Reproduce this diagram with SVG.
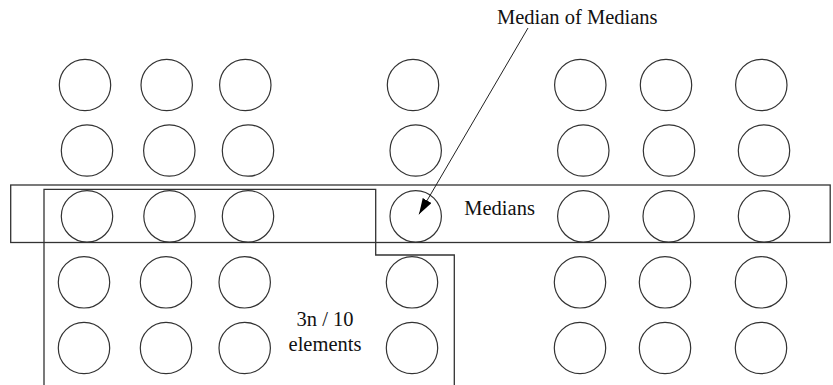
<svg xmlns="http://www.w3.org/2000/svg" width="833" height="385" viewBox="0 0 833 385">
<style>
.c{fill:none;stroke:#333;stroke-width:1.2}
.b{fill:none;stroke:#333;stroke-width:1.3}
text{font-family:'Liberation Serif','DejaVu Serif',serif;font-size:20.5px;fill:#111}
</style>
<defs>
<marker id="ah" markerUnits="userSpaceOnUse" markerWidth="18" markerHeight="12" refX="16" refY="5" orient="auto">
<path d="M0,0 L16,5 L0,10 Z" fill="#000"/>
</marker>
</defs>
<rect width="833" height="385" fill="#fff"/>
<g id="regions">
<rect id="medians-box" class="b" x="10.7" y="185" width="819.5" height="57.5"/>
<path id="three-n-box" class="b" d="M44,385 L44,189.3 L375.7,189.3 L375.7,255 L454.3,255 L454.3,385"/>
</g>
<g id="row1">
<circle class="c" cx="85" cy="85" r="25.7"/>
<circle class="c" cx="166.7" cy="85" r="25.7"/>
<circle class="c" cx="245.3" cy="85" r="25.7"/>
<circle class="c" cx="413" cy="85" r="25.7"/>
<circle class="c" cx="580.3" cy="85" r="25.7"/>
<circle class="c" cx="666" cy="85" r="25.7"/>
<circle class="c" cx="761.3" cy="85" r="25.7"/>
</g>
<g id="row2">
<circle class="c" cx="87" cy="150.5" r="25.7"/>
<circle class="c" cx="169.3" cy="150.5" r="25.7"/>
<circle class="c" cx="248" cy="150.5" r="25.7"/>
<circle class="c" cx="415.7" cy="150.5" r="25.7"/>
<circle class="c" cx="583.3" cy="150.5" r="25.7"/>
<circle class="c" cx="669" cy="150.5" r="25.7"/>
<circle class="c" cx="764" cy="150.5" r="25.7"/>
</g>
<g id="row3">
<circle class="c" cx="87" cy="216.3" r="25.7"/>
<circle class="c" cx="169.5" cy="216.3" r="25.7"/>
<circle class="c" cx="248" cy="216.3" r="25.7"/>
<circle id="median-of-medians" class="c" cx="415.7" cy="216.3" r="25.7"/>
<circle class="c" cx="583.3" cy="216.3" r="25.7"/>
<circle class="c" cx="668.7" cy="216.3" r="25.7"/>
<circle class="c" cx="764" cy="216.3" r="25.7"/>
</g>
<g id="row4">
<circle class="c" cx="84" cy="282.3" r="25.7"/>
<circle class="c" cx="166" cy="282.3" r="25.7"/>
<circle class="c" cx="244.7" cy="282.3" r="25.7"/>
<circle class="c" cx="412" cy="282.3" r="25.7"/>
<circle class="c" cx="580" cy="282.3" r="25.7"/>
<circle class="c" cx="665" cy="282.3" r="25.7"/>
<circle class="c" cx="761" cy="282.3" r="25.7"/>
</g>
<g id="row5">
<circle class="c" cx="84" cy="348" r="25.7"/>
<circle class="c" cx="166" cy="348" r="25.7"/>
<circle class="c" cx="244.7" cy="348" r="25.7"/>
<circle class="c" cx="412" cy="348" r="25.7"/>
<circle class="c" cx="580" cy="348" r="25.7"/>
<circle class="c" cx="665" cy="348" r="25.7"/>
<circle class="c" cx="761" cy="348" r="25.7"/>
</g>
<g id="connectors">
<line x1="528" y1="28" x2="419" y2="214.3" stroke="#222" stroke-width="1" marker-end="url(#ah)"/>
</g>
<g id="labels">
<text x="497" y="24.3" font-family="Liberation Serif, serif">Median of Medians</text>
<text x="464.3" y="214.7" font-family="Liberation Serif, serif">Medians</text>
<text x="325" y="326" text-anchor="middle" font-family="Liberation Serif, serif">3n / 10</text>
<text x="325" y="351" text-anchor="middle" font-family="Liberation Serif, serif">elements</text>
</g>
</svg>
